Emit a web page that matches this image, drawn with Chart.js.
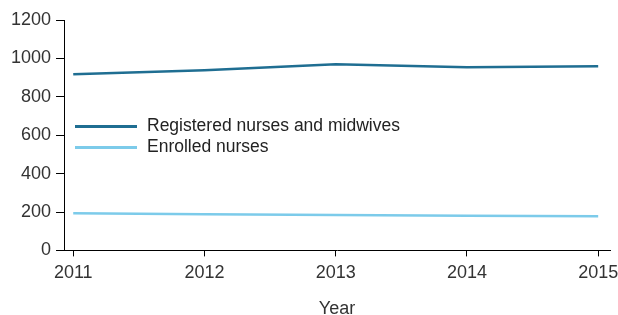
<!DOCTYPE html>
<html>
<head>
<meta charset="utf-8">
<script src="https://cdn.jsdelivr.net/npm/chart.js@4/dist/chart.umd.min.js"></script>
<style>
  body { margin: 0; background: #fff; }
  #wrap { position: relative; width: 618px; height: 315px; }
  #legend { position: absolute; left: 75px; top: 115px; font-family: "Liberation Sans", Arial, sans-serif; font-size: 17.5px; color: #222; }
  #legend div { height: 21px; line-height: 21px; white-space: nowrap; }
  #legend span.sw { display: inline-block; width: 62px; height: 3px; vertical-align: middle; margin-right: 10px; }
</style>
</head>
<body>
<div id="wrap">
  <canvas id="myChart" width="618" height="315"></canvas>
  <div id="legend"></div>
</div>
<script>
let years = [2011, 2012, 2013, 2014, 2015];
let registered = [917, 938, 970, 954, 959];
let enrolled = [194, 188, 185, 181, 178];
let seriesNames = ['Registered nurses and midwives', 'Enrolled nurses'];
let colors = ['#1f6e92', '#7ccbea'];
let yTicks = [0, 200, 400, 600, 800, 1000, 1200];

let toPoints = (vals) => vals.map((v, i) => ({ x: years[i], y: v }));

let ctx = document.getElementById('myChart').getContext('2d');
let font = { family: '"Liberation Sans", Arial, sans-serif', size: 18 };

let chart = new Chart(ctx, {
    type: 'line',
    data: {
        datasets: [
            {
                label: seriesNames[0],
                data: toPoints(registered),
                borderColor: colors[0],
                backgroundColor: colors[0],
                borderWidth: 2.5,
                pointRadius: 0,
                tension: 0
            },
            {
                label: seriesNames[1],
                data: toPoints(enrolled),
                borderColor: colors[1],
                backgroundColor: colors[1],
                borderWidth: 2.5,
                pointRadius: 0,
                tension: 0
            }
        ]
    },
    options: {
        responsive: false,
        animation: false,
        layout: { padding: { top: 20, right: 0, left: 6, bottom: -3 } },
        plugins: {
            legend: { display: false },
            tooltip: { enabled: false }
        },
        scales: {
            x: {
                type: 'linear',
                min: 2010.93,
                max: 2015.09,
                afterBuildTicks: (axis) => { axis.ticks = years.map(v => ({ value: v })); },
                // let the last year label run close to the edge, as in the original
                afterFit: (axis) => { axis.paddingRight = 8; axis.paddingLeft = 0; },
                ticks: {
                    color: '#333',
                    font: font,
                    padding: 6,
                    maxRotation: 0,
                    callback: (v) => String(v)
                },
                grid: { drawOnChartArea: false, tickLength: 6, color: '#000' },
                border: { color: '#000', width: 1 },
                title: {
                    display: true,
                    text: 'Year',
                    color: '#333',
                    font: { family: font.family, size: 18, lineHeight: 1 },
                    padding: { top: 10, bottom: 0 }
                }
            },
            y: {
                min: 0,
                max: 1200,
                afterBuildTicks: (axis) => { axis.ticks = yTicks.map(v => ({ value: v })); },
                ticks: { color: '#333', font: font, padding: 5, callback: (v) => String(v) },
                grid: { drawOnChartArea: false, tickLength: 8, color: '#000' },
                border: { color: '#000', width: 1 }
            }
        }
    }
});

let legend = document.getElementById('legend');
seriesNames.forEach((name, i) => {
    let row = document.createElement('div');
    let sw = document.createElement('span');
    sw.className = 'sw';
    sw.style.background = colors[i];
    row.appendChild(sw);
    row.appendChild(document.createTextNode(name));
    legend.appendChild(row);
});
</script>
</body>
</html>
